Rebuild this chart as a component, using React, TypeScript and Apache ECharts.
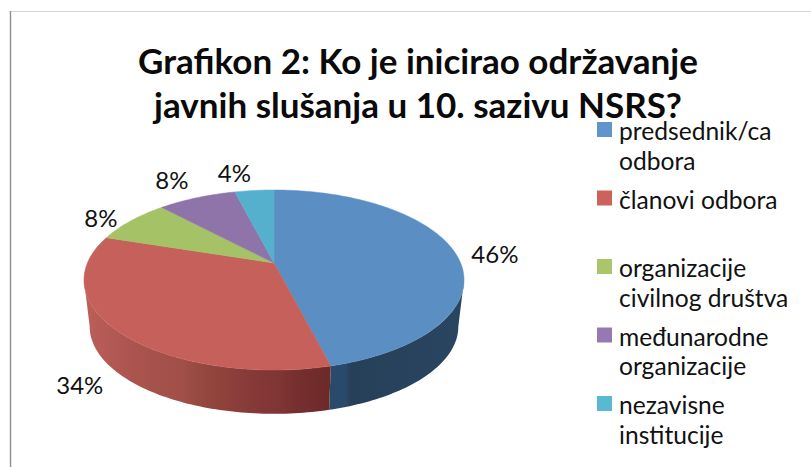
import React, { useEffect, useRef } from "react";
import * as echarts from "echarts";

const categories = ["predsednik/ca\nodbora", "članovi odbora\n ", "organizacije\ncivilnog društva", "međunarodne\norganizacije", "nezavisne\ninstitucije"];
const shares = [46, 34, 8, 8, 4];
const percentLabels = ["46%", "34%", "8%", "8%", "4%"];
const topColors = ["#5b8fc4", "#c5605b", "#a5c266", "#8f74aa", "#54b0cc"];
const legendColors = ["#5f95cc", "#cc625c", "#abc56c", "#947ab0", "#59b9d2"];
const titleText = "Grafikon 2: Ko je inicirao održavanje\njavnih slušanja u 10. sazivu NSRS?";

const sideStops = [
  [{ o: 0, c: "#2a4a6b" }, { o: 0.12, c: "#2a4a6b" }, { o: 0.16, c: "#27405a" }, { o: 1, c: "#2a4560" }],
  [
    { o: 0, c: "#6c2a29" }, { o: 0.12, c: "#742e2d" }, { o: 0.22, c: "#803635" }, { o: 0.3, c: "#843938" },
    { o: 0.42, c: "#8e403b" }, { o: 0.52, c: "#94483f" }, { o: 0.6, c: "#a24f49" }, { o: 0.72, c: "#a6524b" },
    { o: 0.82, c: "#ad5550" }, { o: 0.92, c: "#b55a55" }, { o: 1, c: "#bd5f59" },
  ],
  [{ o: 0, c: "#7d9350" }, { o: 1, c: "#7d9350" }],
  [{ o: 0, c: "#6b5582" }, { o: 1, c: "#6b5582" }],
  [{ o: 0, c: "#3f8499" }, { o: 1, c: "#3f8499" }],
];
const labelOffsets = [[40, 1], [-38, 53], [-30, -3], [-25, -18], [-20, -18]];

const CX = 274, CY = 263, A = 186.6, B = 86.8, K = 0.189;
const rim = (theta: number): [number, number] => {
  const u = Math.sin(theta), v = -Math.cos(theta), w = 1 - K * v;
  return [CX + (A * u) / w, CY + (B * v) / w];
};
const lower = ([x, y]: [number, number]): [number, number] => [CX + (x - CX) * 0.97, 310 + (y - CY) * 0.97];
const total = shares.reduce((a, b) => a + b, 0);
const angles = (i: number) => {
  const before = shares.slice(0, i).reduce((a, b) => a + b, 0);
  return [(before / total) * 2 * Math.PI, ((before + shares[i]) / total) * 2 * Math.PI];
};
const arcPoints = (a0: number, a1: number) => {
  const n = Math.max(4, Math.ceil((a1 - a0) / 0.02));
  const pts: [number, number][] = [];
  for (let j = 0; j <= n; j++) pts.push(rim(a0 + ((a1 - a0) * j) / n));
  return pts;
};
const SIL0 = Math.acos(-K);
const SIL1 = 2 * Math.PI - SIL0;

function renderSide(_: any, api: any) {
  const i = api.value(0);
  const [a0, a1] = angles(i);
  const s0 = Math.max(a0, SIL0), s1 = Math.min(a1, SIL1);
  if (s1 <= s0) return null;
  const top = arcPoints(s0, s1);
  const poly = [...top, ...top.slice().reverse().map(lower)];
  const reverse = i === 0;
  return {
    type: "polygon",
    z2: 1,
    shape: { points: poly },
    style: {
      fill: new echarts.graphic.LinearGradient(
        reverse ? 0 : 1, 0, reverse ? 1 : 0, 0,
        sideStops[i].map((s) => ({ offset: s.o, color: s.c })),
      ),
      stroke: "none",
    },
  };
}

function renderTop(_: any, api: any) {
  const i = api.value(0);
  const [a0, a1] = angles(i);
  const pts = [[CX, CY], ...arcPoints(a0, a1)];
  const mid = rim((a0 + a1) / 2);
  return {
    type: "group",
    z2: 2,
    children: [
      { type: "polygon", shape: { points: pts }, style: { fill: topColors[i], stroke: topColors[i], lineWidth: 0.5 } },
      {
        type: "text",
        style: {
          x: mid[0] + labelOffsets[i][0],
          y: mid[1] + labelOffsets[i][1],
          text: percentLabels[i],
          fill: "#111111",
          font: "24px Lato",
          align: "center",
          verticalAlign: "middle",
        },
      },
    ],
  };
}

export default function App() {
  const ref = useRef<HTMLDivElement>(null);
  useEffect(() => {
    const chart = echarts.init(ref.current!, undefined, { renderer: "svg" });
    const data = shares.map((v, i) => [i, v]);
    const legendTop = [122, 190.5, 259, 327.5, 396];
    chart.setOption({
      animation: false,
      backgroundColor: "#ffffff",
      title: {
        text: titleText,
        left: 413,
        top: 33,
        textAlign: "center",
        textStyle: { fontFamily: "Lato", fontWeight: "bold", fontSize: 35, lineHeight: 44, color: "#0a0a0a" },
      },
      graphic: [
        { type: "line", shape: { x1: 10, y1: 11.5, x2: 811, y2: 11.5 }, style: { stroke: "#d4d4d4", lineWidth: 1 } },
        { type: "line", shape: { x1: 10.5, y1: 11, x2: 10.5, y2: 467 }, style: { stroke: "#909090", lineWidth: 1.4 } },
        ...categories.flatMap((c, i) => [
          { type: "rect", shape: { x: 597, y: legendTop[i], width: 15, height: 15 }, style: { fill: legendColors[i] } },
          {
            type: "text",
            style: { x: 619, y: legendTop[i] - 6, text: c, fill: "#111111", font: "24.6px Lato", lineHeight: 29.5 },
          },
        ]),
      ],
      series: [
        { type: "custom", coordinateSystem: "none", renderItem: renderSide, data, z: 1, silent: true },
        { type: "custom", coordinateSystem: "none", renderItem: renderTop, data, z: 2, silent: true },
      ],
    });
    return () => chart.dispose();
  }, []);
  return <div ref={ref} style={{ position: "fixed", left: 0, top: 0, width: 811, height: 467 }} />;
}
